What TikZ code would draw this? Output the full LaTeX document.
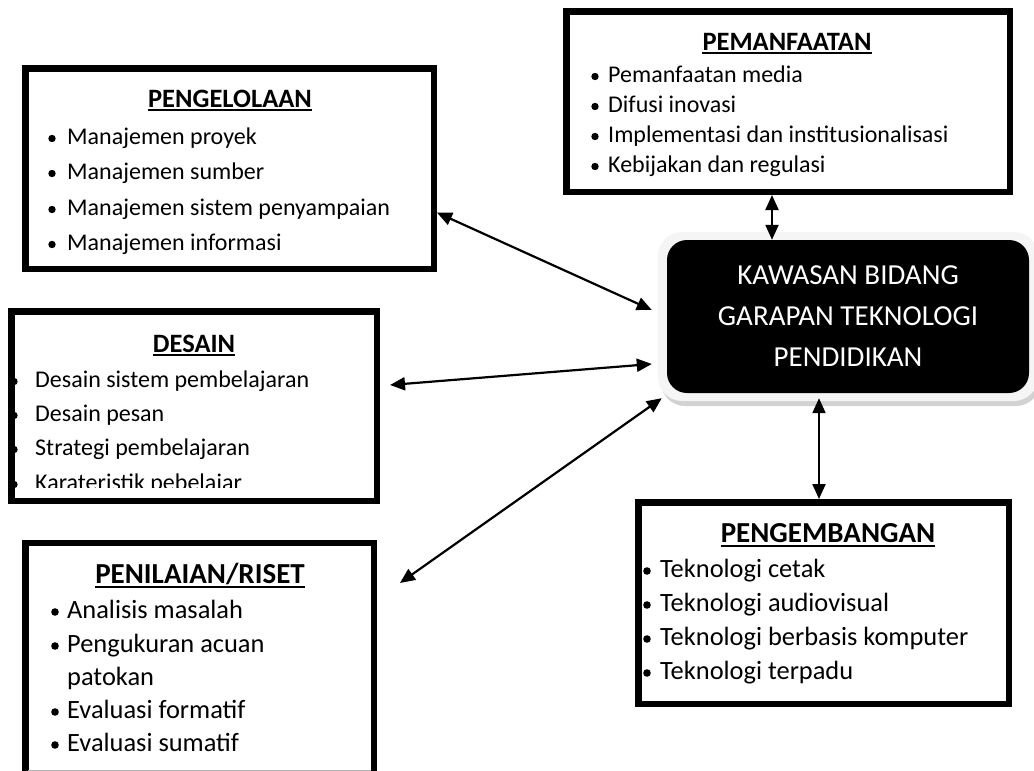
\documentclass[tikz,border=0pt]{standalone}
\usepackage{fontspec}
\setmainfont{Carlito}
\usetikzlibrary{arrows.meta}
\begin{document}
\begin{tikzpicture}[x=1pt,y=-1pt,
  box/.style={draw=black, line width=6.5pt, rectangle, inner sep=0pt, fill=white},
  ttl/.style={anchor=base, inner sep=0pt, font=\bfseries\fontsize{26.5}{30}\selectfont},
  ttlb/.style={anchor=base, inner sep=0pt, font=\bfseries\fontsize{29}{33}\selectfont},
  itm/.style={anchor=base west, inner sep=0pt, font=\fontsize{24}{28}\selectfont},
  itmb/.style={anchor=base west, inner sep=0pt, font=\fontsize{26.4}{30}\selectfont},
  uline/.style={line width=1.8pt},
  bul/.style={fill=black},
  arr/.style={line width=2.2pt, {Triangle[length=15pt,width=13pt]}-{Triangle[length=15pt,width=13pt]}},
  central/.style={rectangle, rounded corners=20pt, fill=black, text=white, inner sep=0pt,
    minimum width=362pt, minimum height=153pt, align=center,
    font=\fontsize{29}{41}\selectfont}
]
\clip (0,0) rectangle (1034,771);
\fill[white] (0,0) rectangle (1034,771);

% ---------- boxes ----------
\node[box, minimum width=408.5pt, minimum height=200.5pt] (peng) at (229.5,168.5) {};
\node[box, minimum width=365.5pt, minimum height=189.5pt] (des) at (194,406) {};
\node[box, minimum width=348.5pt, minimum height=256.75pt] (pen) at (199.5,671.6) {};
\draw[gray!60, line width=1pt] (28,770.2) -- (371,770.2);
\node[box, minimum width=443.5pt, minimum height=180.5pt] (pem) at (788,101.5) {};
\node[box, minimum width=370.5pt, minimum height=201.5pt] (dev) at (823.5,603) {};

% ---------- central ----------
\fill[gray!35, rounded corners=24pt] (661,236) rectangle (1040,406);
\fill[gray!8, rounded corners=24pt] (658,232) rectangle (1038,401);
\node[central] (k) at (848,316.5) {KAWASAN BIDANG\\GARAPAN TEKNOLOGI\\PENDIDIKAN};

% ---------- PENGELOLAAN ----------
\node[ttl] (t1) at (230,107) {PENGELOLAAN};
\draw[uline] ([yshift=-3pt]t1.base west) -- ([yshift=-3pt]t1.base east);
\node[itm] (a1) at (67,144) {Manajemen proyek};
\node[itm] (a2) at (67,179) {Manajemen sumber};
\node[itm] (a3) at (67,215) {Manajemen sistem penyampaian};
\node[itm] (a4) at (67,250) {Manajemen informasi};
\foreach \y in {144,179,215,250} \fill[bul] (52,\y-5.5) circle (3.7pt);

% ---------- PEMANFAATAN ----------
\node[ttl] (t2) at (787,50) {PEMANFAATAN};
\draw[uline] ([yshift=-3pt]t2.base west) -- ([yshift=-3pt]t2.base east);
\node[itm] (b1) at (608,82) {Pemanfaatan media};
\node[itm] (b2) at (608,112) {Difusi inovasi};
\node[itm] (b3) at (608,142) {Implementasi dan institusionalisasi};
\node[itm] (b4) at (608,172) {Kebijakan dan regulasi};
\foreach \y in {82,112,142,172} \fill[bul] (595,\y-5.5) circle (3.7pt);

% ---------- DESAIN ----------
\node[ttl] (t3) at (194,352) {DESAIN};
\draw[uline] ([yshift=-3pt]t3.base west) -- ([yshift=-3pt]t3.base east);
\node[itm] (c1) at (35,387) {Desain sistem pembelajaran};
\node[itm] (c2) at (35,421) {Desain pesan};
\node[itm] (c3) at (35,455) {Strategi pembelajaran};
\begin{scope}
  \clip (15,460) rectangle (372,487.5);
  \node[itm] (c4) at (35,490) {Karateristik pebelajar};
\end{scope}
\foreach \y in {387,421,455} \fill[bul] (14,\y-5.5) circle (3.7pt);
\begin{scope}
  \clip (0,460) rectangle (372,487.5);
  \fill[bul] (14,484.5) circle (3.7pt);
\end{scope}

% ---------- PENILAIAN/RISET ----------
\node[ttlb] (t4) at (200,583) {PENILAIAN/RISET};
\draw[uline] ([yshift=-4pt]t4.base west) -- ([yshift=-4pt]t4.base east);
\node[itmb] (d1) at (67,618) {Analisis masalah};
\node[itmb] (d2) at (67,652) {Pengukuran acuan};
\node[itmb] (d3) at (67,685) {patokan};
\node[itmb] (d4) at (67,718) {Evaluasi formatif};
\node[itmb] (d5) at (67,751) {Evaluasi sumatif};
\foreach \y in {618,652,718,751} \fill[bul] (55,\y-6) circle (3.8pt);

% ---------- PENGEMBANGAN ----------
\node[ttlb] (t5) at (828,542) {PENGEMBANGAN};
\draw[uline] ([yshift=-4pt]t5.base west) -- ([yshift=-4pt]t5.base east);
\node[itmb] (e1) at (660,577) {Teknologi cetak};
\node[itmb] (e2) at (660,611) {Teknologi audiovisual};
\node[itmb] (e3) at (660,645) {Teknologi berbasis komputer};
\node[itmb] (e4) at (660,679) {Teknologi terpadu};
\foreach \y in {577,611,645,679} \fill[bul] (647,\y-6) circle (3.8pt);

% ---------- connectors ----------
\draw[arr] (peng.-12.6) -- ([shift={(-15pt,6.5pt)}]k.west);
\draw[arr] ([shift={(10pt,21pt)}]des.east) -- ([shift={(-15pt,-47.5pt)}]k.west);
\draw[arr] ([shift={(23pt,-43pt)}]pen.north east) -- ([shift={(-5pt,-5pt)}]k.south west);
\draw[arr] ([xshift=-16pt]pem.south) -- ([xshift=-76pt]k.north);
\draw[arr] ([shift={(-29pt,-5pt)}]k.south) -- ([xshift=-4.5pt]dev.north);
\end{tikzpicture}
\end{document}
